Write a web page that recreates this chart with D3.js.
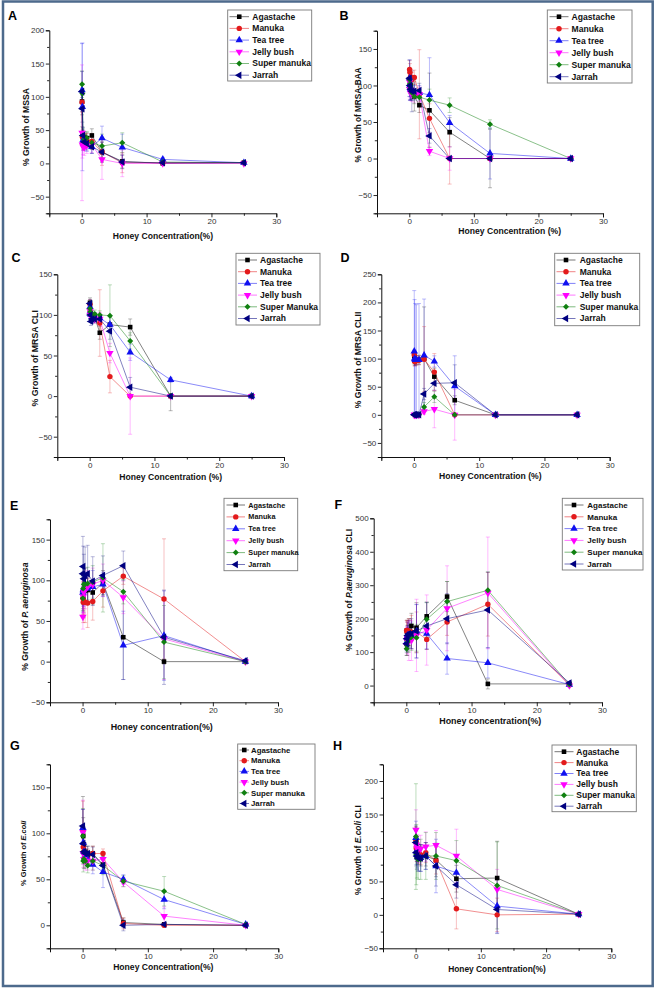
<!DOCTYPE html>
<html><head><meta charset="utf-8">
<script src="https://cdn.jsdelivr.net/npm/d3@7"></script>
<style>
body{margin:0;background:#fff}
svg{display:block}
text{font-family:"Liberation Sans",Arial,Helvetica,sans-serif}
</style>
</head><body>
<svg id="chart" width="656" height="991"></svg>
<script>
// ---------------- DATA ----------------
const concentrations = [0.049, 0.098, 0.195, 0.39, 0.78, 1.56, 3.125, 6.25, 12.5, 25];
const seriesNames = ["Agastache", "Manuka", "Tea tree", "Jelly bush", "Super manuka", "Jarrah"];
const seriesNamesC = ["Agastache", "Manuka", "Tea tree", "Jelly bush", "Super Manuka", "Jarrah"];
const seriesColors = ["#000000", "#e31a1c", "#1010f0", "#ff00ff", "#108010", "#000080"];

// A: MSSA
const mssaValues = [
  [93, 45, 38, 40, 38, 42, 17, 3, 0, 1],
  [92, 40, 30, 35, 35, 33, 17, 1, 1, 1],
  [110, 85, 35, 30, 28, 25, 38, 24, 6, 1],
  [46, 28, 25, 24, 27, 28, 6, 0, 0, 0],
  [119, 105, 42, 35, 38, 31, 26, 31, 2, 1],
  [108, 82, 42, 32, 30, 25, 17, 2, 1, 1]
];
const mssaErrors = [
  [20, 10, 10, 8, 8, 10, 15, 10, 2, 1],
  [15, 10, 10, 10, 10, 12, 20, 15, 2, 1],
  [70, 96, 15, 10, 10, 10, 18, 20, 3, 1],
  [102, 20, 12, 12, 12, 12, 30, 20, 2, 1],
  [20, 15, 10, 10, 10, 10, 18, 15, 3, 1],
  [30, 20, 12, 10, 10, 10, 15, 10, 3, 1]
];
// B: MRSA-BAA
const baaValues = [
  [108, 104, 100, 92, 85, 73, 66, 36, 0, 0],
  [122, 118, 112, 108, 111, 88, 55, 0, 0, 0],
  [110, 100, 95, 92, 90, 90, 87, 49, 7, 0],
  [105, 95, 90, 88, 86, 88, 10, 0, 0, 0],
  [108, 102, 98, 90, 85, 84, 80, 73, 47, 0],
  [110, 100, 95, 92, 92, 93, 31, 0, 0, 0]
];
const baaErrors = [
  [15, 12, 10, 10, 20, 10, 51, 20, 40, 2],
  [12, 12, 10, 10, 10, 61, 20, 35, 2, 2],
  [25, 20, 15, 12, 10, 10, 51, 10, 35, 2],
  [15, 12, 10, 10, 10, 10, 6, 16, 2, 1],
  [12, 10, 10, 10, 10, 10, 15, 10, 6, 1],
  [25, 20, 15, 28, 10, 10, 10, 2, 2, 1]
];
// C: MRSA CLI
const cliValues = [
  [115, 105, 100, 97, 97, 78, 88, 85, 0, 0],
  [113, 105, 100, 100, 97, 90, 24, 0, 0, 0],
  [110, 104, 100, 98, 98, 96, 88, 54, 20, 0],
  [105, 100, 98, 96, 95, 95, 53, 0, 0, 0],
  [108, 104, 100, 100, 101, 100, 99, 68, 0, 0],
  [114, 100, 92, 95, 95, 95, 80, 11, 0, 0]
];
const cliErrors = [
  [6, 5, 5, 5, 5, 8, 10, 10, 18, 1],
  [6, 5, 5, 5, 5, 41, 20, 1, 1, 1],
  [5, 5, 5, 5, 5, 5, 10, 10, 3, 1],
  [5, 5, 5, 5, 5, 8, 12, 47, 1, 1],
  [5, 5, 5, 5, 5, 5, 38, 10, 1, 1],
  [5, 5, 5, 5, 5, 5, 10, 12, 1, 1]
];
// D: MRSA CLII
const cliiValues = [
  [105, 97, 96, 97, 98, 100, 68, 26, 0, 0],
  [107, 95, 95, 97, 97, 99, 76, 0, 0, 0],
  [113, 100, 98, 98, 98, 106, 95, 51, 0, 0],
  [0, 0, 0, 0, 0, 6, 10, 0, 0, 0],
  [0, 0, 0, 0, 0, 14, 32, 0, 0, 0],
  [0, 0, 0, 0, 0, 37, 56, 57, 0, 0]
];
const cliiErrors = [
  [8, 8, 8, 8, 8, 92, 15, 8, 1, 1],
  [8, 8, 8, 8, 8, 58, 33, 2, 1, 1],
  [108, 105, 100, 98, 100, 100, 10, 54, 1, 1],
  [2, 2, 2, 2, 2, 5, 33, 45, 1, 1],
  [2, 2, 2, 2, 2, 8, 10, 2, 1, 1],
  [2, 2, 2, 2, 2, 10, 12, 32, 1, 1]
];
// E: P. aeruginosa
const paValues = [
  [85, 88, 86, 87, 88, 85, 97, 30, 0, 0],
  [78, 73, 74, 73, 72, 74, 87, 105, 77, 0],
  [85, 88, 90, 90, 90, 92, 95, 20, 32, 0],
  [55, 80, 85, 90, 92, 95, 100, 79, 28, 0],
  [78, 90, 95, 95, 96, 98, 103, 86, 24, 0],
  [108, 117, 102, 106, 108, 99, 106, 118, 30, 1]
];
const paErrors = [
  [20, 15, 15, 15, 15, 15, 15, 52, 3, 1],
  [20, 25, 20, 25, 30, 23, 20, 10, 74, 1],
  [25, 20, 20, 20, 20, 20, 15, 42, 55, 1],
  [15, 20, 25, 25, 20, 20, 20, 20, 50, 1],
  [15, 20, 20, 20, 20, 20, 42, 15, 45, 1],
  [46, 25, 30, 35, 35, 30, 24, 18, 58, 1]
];
// F: P. aeruginosa CLI
const paCliValues = [
  [140, 165, 150, 160, 178, 173, 207, 266, 5, 5],
  [165, 160, 165, 160, 160, 160, 138, 190, 243, 2],
  [130, 145, 150, 150, 150, 162, 155, 81, 68, 3],
  [120, 135, 140, 135, 135, 150, 166, 231, 277, 0],
  [110, 120, 130, 140, 145, 143, 198, 251, 285, 3],
  [125, 140, 150, 155, 155, 163, 178, 200, 226, 8]
];
const paCliErrors = [
  [30, 30, 30, 40, 38, 75, 43, 45, 15, 2],
  [30, 30, 30, 40, 50, 60, 30, 40, 95, 2],
  [25, 30, 30, 35, 40, 80, 45, 47, 45, 2],
  [30, 40, 50, 60, 60, 108, 105, 127, 167, 2],
  [20, 30, 30, 40, 40, 40, 50, 60, 55, 2],
  [25, 30, 40, 40, 45, 80, 70, 75, 113, 2]
];
// G: E. coli
const ecValues = [
  [105, 97, 88, 80, 78, 78, 66, 3, 1, 0],
  [103, 85, 80, 76, 75, 78, 78, 2, 0, 0],
  [106, 90, 80, 75, 72, 66, 58, 50, 28, 1],
  [101, 78, 72, 70, 70, 70, 72, 47, 10, 0],
  [97, 70, 72, 70, 65, 70, 65, 48, 37, 1],
  [108, 89, 80, 78, 78, 77, 65, 0, 1, 0]
];
const ecErrors = [
  [35, 20, 12, 8, 8, 8, 5, 5, 2, 1],
  [32, 15, 10, 8, 8, 8, 5, 6, 2, 1],
  [20, 15, 10, 8, 8, 10, 17, 5, 10, 1],
  [35, 15, 10, 10, 10, 10, 8, 5, 10, 1],
  [30, 12, 10, 8, 8, 10, 10, 6, 16, 1],
  [18, 12, 10, 8, 8, 8, 8, 6, 2, 1]
];
// H: E. coli CLI
const ecCliValues = [
  [110, 100, 95, 90, 88, 88, 82, 54, 55, 1],
  [112, 100, 95, 92, 90, 93, 81, 9, 0, 1],
  [115, 95, 90, 86, 85, 88, 73, 63, 13, 1],
  [127, 105, 100, 98, 99, 102, 104, 88, 38, 1],
  [117, 90, 85, 83, 83, 88, 88, 81, 44, 1],
  [108, 93, 88, 85, 85, 88, 73, 45, 8, 1]
];
const ecCliErrors = [
  [20, 15, 15, 15, 15, 15, 25, 20, 55, 1],
  [20, 15, 15, 15, 15, 15, 20, 30, 25, 1],
  [25, 20, 20, 20, 20, 20, 40, 20, 40, 1],
  [30, 20, 20, 20, 20, 22, 22, 40, 30, 1],
  [79, 45, 30, 30, 30, 35, 35, 30, 65, 1],
  [25, 20, 20, 20, 20, 20, 30, 20, 36, 1]
];

const xTickValues = [0, 10, 20, 30];
const xMinorTickValues = [-5, 5, 15, 25];

// ---------------- LAYOUT ----------------
const panels = [
  {label:"A", lx:8, ly:19.5, values:mssaValues, errors:mssaErrors, names:seriesNames,
   xr:[49.3,276.3], yr:[213.3,30.3], yd:[-75,200], yMaj:[-50,0,50,100,150,200], yMin:25,
   xTitle:"Honey Concentration(%)", xtx:163, xty:238.5, xfs:8.6,
   yTitle:[["% Growth of MSSA",false]], ytx:26, yty:127, yfs:8.6,
   leg:{x:227.7,y:10,w:84,h:71,r0:16.7,dy:11.7,s0:229.5,s1:249,tx:252.3,fs:8.5}},
  {label:"B", lx:339.5, ly:19.5, values:baaValues, errors:baaErrors, names:seriesNames,
   xr:[377,603], yr:[213.3,30.7], yd:[-75,175], yMaj:[-50,0,50,100,150], yMin:25,
   xTitle:"Honey Concentration (%)", xtx:509.7, xty:234, xfs:8.6,
   yTitle:[["% Growth of MRSA-BAA",false]], ytx:358, yty:115, yfs:8.2,
   leg:{x:547.3,y:10,w:84.7,h:73,r0:16.7,dy:12,s0:549.5,s1:568.5,tx:571.5,fs:8.6}},
  {label:"C", lx:11.5, ly:261.5, values:cliValues, errors:cliErrors, names:seriesNamesC,
   xr:[57.3,284], yr:[457,274.3], yd:[-75,150], yMaj:[-50,0,50,100,150], yMin:25,
   xTitle:"Honey Concentration (%)", xtx:170.7, xty:480, xfs:8.6,
   yTitle:[["% Growth of MRSA CLI",false]], ytx:35, yty:358.3, yfs:8.8,
   leg:{x:236,y:253.3,w:84,h:71.7,r0:260,dy:11.7,s0:238,s1:257,tx:260,fs:8.5}},
  {label:"D", lx:340.5, ly:261.5, values:cliiValues, errors:cliiErrors, names:seriesNames,
   xr:[381.3,609.7], yr:[457,274.3], yd:[-75,250], yMaj:[-50,0,50,100,150,200,250], yMin:25,
   xTitle:"Honey Concentration (%)", xtx:490.3, xty:478.5, xfs:8.6,
   yTitle:[["% Growth of MRSA CLII",false]], ytx:357.5, yty:360, yfs:8.6,
   leg:{x:554.7,y:253.3,w:85,h:72.4,r0:260,dy:11.7,s0:556.5,s1:575.5,tx:579.7,fs:8.5}},
  {label:"E", lx:10, ly:509.5, values:paValues, errors:paErrors, names:seriesNames,
   xr:[50,278], yr:[702.3,519.3], yd:[-50,175], yMaj:[-50,0,50,100,150], yMin:25,
   xTitle:"Honey concentration(%)", xtx:161.7, xty:730, xfs:8.9,
   yTitle:[["% Growth of ",false],["P. aeruginosa",true]], ytx:25, yty:616.7, yfs:8.6,
   leg:{x:224,y:498.3,w:73.7,h:72.4,r0:505,dy:11.9,s0:226.5,s1:245,tx:248.3,fs:7.3}},
  {label:"F", lx:334.5, ly:508.5, values:paCliValues, errors:paCliErrors, names:seriesNames,
   xr:[373.7,602], yr:[702.3,518.3], yd:[-50,500], yMaj:[0,100,200,300,400,500], yMin:50,
   xTitle:"Honey concentration(%)", xtx:490.3, xty:723.5, xfs:8.9,
   yTitle:[["% Growth of ",false],["P.aeruginosa",true],[" CLI",false]], ytx:348.7, yty:590, yfs:8.6,
   leg:{x:562.3,y:498.3,w:80.7,h:71.7,r0:505,dy:11.8,s0:564.5,s1:583.5,tx:587.3,fs:8}},
  {label:"G", lx:10, ly:750, values:ecValues, errors:ecErrors, names:seriesNames,
   xr:[50,278.3], yr:[948.3,764.3], yd:[-25,175], yMaj:[0,50,100,150], yMin:25,
   xTitle:"Honey Concentration(%)", xtx:163.3, xty:969.8, xfs:8.6,
   yTitle:[["% Growth of ",false],["E.coli",true]], ytx:23.3, yty:853.3, yfs:7.4,
   leg:{x:237.7,y:744,w:77.3,h:65.3,r0:750,dy:10.7,s0:239.5,s1:249,tx:251,fs:7.8}},
  {label:"H", lx:333, ly:750, values:ecCliValues, errors:ecCliErrors, names:seriesNames,
   xr:[383,611.3], yr:[948.3,764.3], yd:[-50,225], yMaj:[-50,0,50,100,150,200], yMin:25,
   xTitle:"Honey Concentration(%)", xtx:497, xty:971.7, xfs:8.4,
   yTitle:[["% Growth of ",false],["E.coli",true],[" CLI",false]], ytx:358, yty:850, yfs:8.4,
   leg:{x:552,y:745,w:84.3,h:66.7,r0:751.7,dy:10.9,s0:554.5,s1:573.5,tx:576.3,fs:8.5}}
];

// ---------------- DRAW ----------------
const svg = d3.select("#chart");
svg.append("rect").attr("width",656).attr("height",991).attr("fill","#fff");

const symTypes = [
  {t:d3.symbolSquare, s:21, r:0},
  {t:d3.symbolCircle, s:23, r:0},
  {t:d3.symbolTriangle, s:24, r:0},
  {t:d3.symbolTriangle, s:24, r:180},
  {t:d3.symbolSquare, s:18, r:45},
  {t:d3.symbolTriangle, s:24, r:-90}
];
function symbolPath(i){ return d3.symbol().type(symTypes[i].t).size(symTypes[i].s)(); }

panels.forEach(p => {
  const g = svg.append("g");
  const x = d3.scaleLinear().domain([-5,30]).range(p.xr);
  const y = d3.scaleLinear().domain(p.yd).range(p.yr);
  const axisColor = "#111";

  // error bars
  const eg = g.append("g");
  p.values.forEach((vals, si) => {
    vals.forEach((v, i) => {
      const e = p.errors[si][i];
      if (e <= 0) return;
      const cx = x(concentrations[i]);
      const top = y(Math.min(v + e, p.yd[1]));
      const bot = y(Math.max(v - e, p.yd[0]));
      const col = seriesColors[si];
      eg.append("line").attr("x1",cx).attr("x2",cx).attr("y1",top).attr("y2",bot)
        .attr("stroke",col).attr("stroke-opacity",0.3).attr("stroke-width",0.9);
      [v+e, v-e].forEach(c => {
        if (c > p.yd[1] || c < p.yd[0]) return;
        eg.append("line").attr("x1",cx-2).attr("x2",cx+2).attr("y1",y(c)).attr("y2",y(c))
          .attr("stroke",col).attr("stroke-opacity",0.35).attr("stroke-width",0.8);
      });
    });
  });

  // lines
  const line = d3.line().x((d,i)=>x(concentrations[i])).y(d=>y(d));
  p.values.forEach((vals, si) => {
    g.append("path").attr("d", line(vals)).attr("fill","none")
      .attr("stroke", seriesColors[si]).attr("stroke-opacity",0.55).attr("stroke-width",0.9);
  });
  // markers
  p.values.forEach((vals, si) => {
    vals.forEach((v,i) => {
      g.append("path").attr("d", symbolPath(si))
        .attr("transform", `translate(${x(concentrations[i])},${y(v)}) rotate(${symTypes[si].r})`)
        .attr("fill", seriesColors[si]);
    });
  });

  // axes
  const xAxis = d3.axisBottom(x).tickValues(xTickValues).tickSize(4).tickPadding(1.2).tickFormat(d3.format("d"));
  g.append("g").attr("transform",`translate(0,${p.yr[0]})`).call(xAxis);
  const xMinor = d3.axisBottom(x).tickValues(xMinorTickValues).tickSize(2.5).tickFormat("");
  g.append("g").attr("transform",`translate(0,${p.yr[0]})`).call(xMinor).select(".domain").remove();
  const yAxis = d3.axisLeft(y).tickValues(p.yMaj).tickSize(3.5).tickPadding(1.5).tickFormat(d3.format("d"));
  g.append("g").attr("transform",`translate(${p.xr[0]},0)`).call(yAxis);
  const minorVals = d3.range(p.yd[0], p.yd[1]+0.01, p.yMin).filter(v => !p.yMaj.includes(v));
  g.append("g").attr("transform",`translate(${p.xr[0]},0)`)
    .call(d3.axisLeft(y).tickValues(minorVals).tickSize(2.2).tickFormat("")).select(".domain").remove();
  g.selectAll(".domain").attr("stroke",axisColor).attr("stroke-width",1);
  g.selectAll(".tick line").attr("stroke",axisColor).attr("stroke-width",0.9);
  g.selectAll(".tick text").attr("font-size",8).attr("fill","#333")
    .attr("font-family","'Liberation Sans',Arial,sans-serif");

  // titles
  g.append("text").attr("x",p.xtx).attr("y",p.xty).attr("text-anchor","middle")
    .attr("font-weight","bold").attr("font-size",p.xfs).attr("fill","#111").text(p.xTitle);
  const yt = g.append("text").attr("transform",`translate(${p.ytx},${p.yty}) rotate(-90)`)
    .attr("text-anchor","middle").attr("dy","0.35em")
    .attr("font-weight","bold").attr("font-size",p.yfs).attr("fill","#111");
  p.yTitle.forEach(([t, it]) => {
    yt.append("tspan").attr("font-style", it ? "italic" : "normal").text(t);
  });

  // panel label
  g.append("text").attr("x",p.lx).attr("y",p.ly).attr("font-weight","bold")
    .attr("font-size",12.5).attr("fill","#000").text(p.label);

  // legend
  const L = p.leg;
  g.append("rect").attr("x",L.x).attr("y",L.y).attr("width",L.w).attr("height",L.h)
    .attr("fill","#fff").attr("stroke","#7a7a7a").attr("stroke-width",0.9);
  p.names.forEach((n, si) => {
    const ry = L.r0 + si*L.dy;
    g.append("line").attr("x1",L.s0).attr("x2",L.s1).attr("y1",ry).attr("y2",ry)
      .attr("stroke",seriesColors[si]).attr("stroke-opacity",0.6).attr("stroke-width",0.9);
    g.append("path").attr("d",symbolPath(si))
      .attr("transform",`translate(${(L.s0+L.s1)/2},${ry}) rotate(${symTypes[si].r})`)
      .attr("fill",seriesColors[si]);
    g.append("text").attr("x",L.tx).attr("y",ry).attr("dy","0.35em")
      .attr("font-size",L.fs).attr("font-weight","bold").attr("fill","#111").text(n);
  });
});

// outer frame
svg.append("rect").attr("x",3).attr("y",1.5).attr("width",649.7).attr("height",984.5)
  .attr("fill","none").attr("stroke","#4d6a8c").attr("stroke-width",2.5);
</script>
</body></html>
